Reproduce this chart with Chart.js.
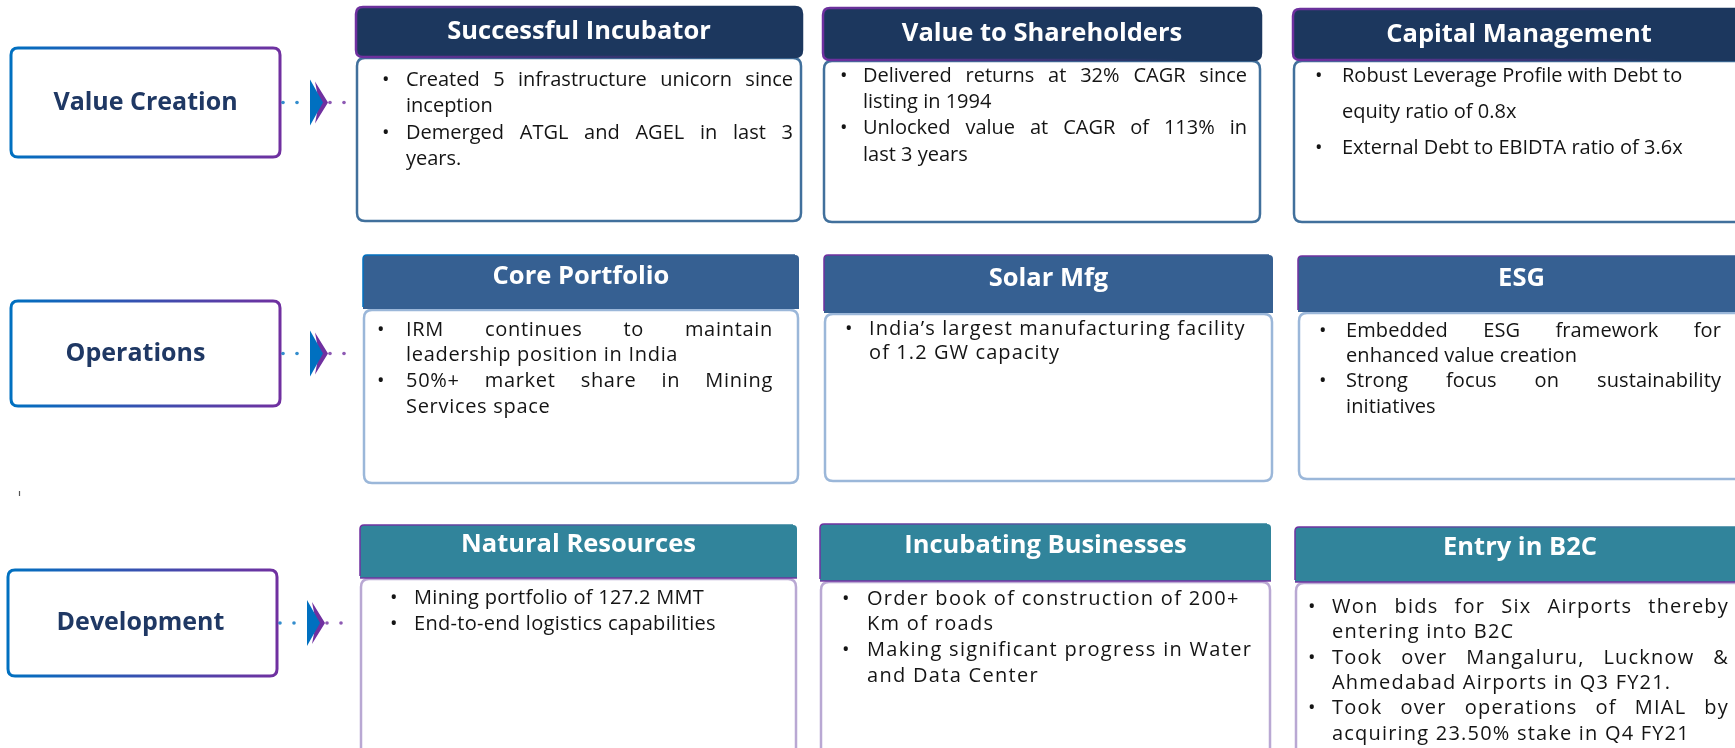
<!DOCTYPE html>
<html>
<head>
<meta charset="utf-8">
<title>Business model</title>
<script src="https://cdn.jsdelivr.net/npm/chart.js@4.4.0/dist/chart.umd.min.js"></script>
<style>
    html, body { margin: 0; padding: 0; background: #ffffff; }
    #wrap { width: 1735px; height: 748px; position: relative; }
</style>
</head>
<body>
<div id="wrap"><canvas id="chart"></canvas></div>
<script>
// ---- data: stage names, card titles, bullet lines (as wrapped in the original) ----
const stages = ['Value Creation', 'Operations', 'Development'];

const cardTitles = [
    ['Successful Incubator', 'Value to Shareholders', 'Capital Management'],
    ['Core Portfolio', 'Solar Mfg', 'ESG'],
    ['Natural Resources', 'Incubating Businesses', 'Entry in B2C']
];

const cardBullets = [
    [
        [['Created 5 infrastructure unicorn since', 'inception'], ['Demerged ATGL and AGEL in last 3', 'years.']],
        [['Delivered returns at 32% CAGR since', 'listing in 1994'], ['Unlocked value at CAGR of 113% in', 'last 3 years']],
        [['Robust Leverage Profile with Debt to', 'equity ratio of 0.8x'], ['External Debt to EBIDTA ratio of 3.6x']]
    ],
    [
        [['IRM continues to maintain', 'leadership position in India'], ['50%+ market share in Mining', 'Services space']],
        [['India\u2019s largest manufacturing facility', 'of 1.2 GW capacity']],
        [['Embedded ESG framework for', 'enhanced value creation'], ['Strong focus on sustainability', 'initiatives']]
    ],
    [
        [['Mining portfolio of 127.2 MMT'], ['End-to-end logistics capabilities']],
        [['Order book of construction of 200+', 'Km of roads'], ['Making significant progress in Water', 'and Data Center']],
        [['Won bids for Six Airports thereby', 'entering into B2C'], ['Took over Mangaluru, Lucknow &', 'Ahmedabad Airports in Q3 FY21.'], ['Took over operations of MIAL by', 'acquiring 23.50% stake in Q4 FY21']]
    ]
];

// ---- layout, in units of the 1735 x 748 frame ----
const stageBoxes = [[11, 280, 48, 157], [11, 280, 301, 406], [8, 277, 570, 676]];
const stageTextShift = [0, -10, -2];

// [left, right, headTop, headBottom, bodyBottom]
const cardBoxes = [
    [[356, 802, 7, 57, 221], [823, 1261, 8, 60, 222], [1293, 1745, 9, 60, 222]],
    [[363, 799, 255, 309, 483], [824, 1273, 255, 313, 481], [1298, 1745, 256, 312, 479]],
    [[360, 797, 525, 578, 760], [820, 1271, 524, 581, 760], [1295, 1745, 527, 582, 760]]
];

// [bulletX, textX, rightX, firstLineY, lineGap, justify, letterSpacing]
const textSpots = [
    [[382, 406, 793, 80, 26.5, true, 0], [840, 863, 1247, 76, 26.3, true, 0], [1315, 1342, 1720, 76, 36, false, 0]],
    [[377, 406, 773, 330, 25.7, true, 0.7], [845, 869, 1260, 329, 24.5, false, 1.1], [1319, 1346, 1721, 331, 25.3, true, 0.1]],
    [[390, 414, 780, 598, 26, false, 0.3], [842, 867, 1245, 599, 25.6, false, 1.3], [1308, 1332, 1729, 607, 25.4, true, 1.2]]
];

const rowStyles = [
    { head: '#1c375e', body: '#41709c', titleShift: 0 },
    { head: '#366092', body: '#9bb7d9', titleShift: -5 },
    { head: '#31849b', body: '#b9a8d3', titleShift: -7 }
];

const FONT = '"Open Sans", "Noto Sans", sans-serif';
const BLUE = '#0070c0';
const PURPLE = '#7030a0';

function roundRect(ctx, x0, y0, x1, y1, r) {
    ctx.beginPath();
    ctx.moveTo(x0 + r, y0);
    ctx.lineTo(x1 - r, y0);
    ctx.quadraticCurveTo(x1, y0, x1, y0 + r);
    ctx.lineTo(x1, y1 - r);
    ctx.quadraticCurveTo(x1, y1, x1 - r, y1);
    ctx.lineTo(x0 + r, y1);
    ctx.quadraticCurveTo(x0, y1, x0, y1 - r);
    ctx.lineTo(x0, y0 + r);
    ctx.quadraticCurveTo(x0, y0, x0 + r, y0);
    ctx.closePath();
}

function drawLine(ctx, text, x, right, y, justify) {
    ctx.textAlign = 'left';
    if (!justify) {
        ctx.fillText(text, x, y);
        return;
    }
    const words = text.split(' ');
    const widths = words.map(w => ctx.measureText(w).width);
    const total = widths.reduce((a, b) => a + b, 0);
    const gap = words.length > 1 ? (right - x - total) / (words.length - 1) : 0;
    let cx = x;
    words.forEach((w, i) => {
        ctx.fillText(w, cx, y);
        cx += widths[i] + gap;
    });
}

const diagramPlugin = {
    id: 'diagram',
    afterDraw(chart) {
        const ctx = chart.ctx;
        const xs = chart.scales.x;
        const ys = chart.scales.y;
        const px = v => xs.getPixelForValue(v);
        const py = v => ys.getPixelForValue(v);

        ctx.save();

        // stage boxes on the left
        stages.forEach((name, r) => {
            const [l, rt, t, b] = stageBoxes[r];
            const g = ctx.createLinearGradient(px(l), 0, px(rt), 0);
            g.addColorStop(0, BLUE);
            g.addColorStop(1, PURPLE);
            roundRect(ctx, px(l), py(t), px(rt), py(b), 7);
            ctx.fillStyle = '#ffffff';
            ctx.fill();
            ctx.lineWidth = 3;
            ctx.strokeStyle = g;
            ctx.stroke();

            ctx.fillStyle = '#1f3864';
            ctx.font = 'bold 25px ' + FONT;
            ctx.textAlign = 'center';
            ctx.textBaseline = 'middle';
            ctx.fillText(name, px((l + rt) / 2 + stageTextShift[r]), py((t + b) / 2));

            // dotted connector with double arrowhead
            const cy = py((t + b) / 2);
            const ax = rt + 30;
            [[rt + 3, BLUE], [rt + 17, BLUE], [ax + 20, PURPLE], [ax + 34, PURPLE]].forEach(([dx, c]) => {
                ctx.beginPath();
                ctx.arc(px(dx), cy, 1.8, 0, Math.PI * 2);
                ctx.fillStyle = c;
                ctx.globalAlpha = 0.8;
                ctx.fill();
                ctx.globalAlpha = 1;
            });
            ctx.beginPath();
            ctx.moveTo(px(ax + 5), cy - 21);
            ctx.lineTo(px(ax + 18), cy);
            ctx.lineTo(px(ax + 5), cy + 21);
            ctx.lineTo(px(ax + 9), cy);
            ctx.closePath();
            ctx.fillStyle = PURPLE;
            ctx.fill();
            ctx.beginPath();
            ctx.moveTo(px(ax), cy - 23);
            ctx.lineTo(px(ax + 13), cy);
            ctx.lineTo(px(ax), cy + 23);
            ctx.closePath();
            ctx.fillStyle = BLUE;
            ctx.fill();
        });

        // cards
        cardTitles.forEach((row, r) => {
            const st = rowStyles[r];
            row.forEach((title, c) => {
                const [l, rt, ht, hb, bb] = cardBoxes[r][c];
                const L = px(l), R = px(rt), HT = py(ht), HB = py(hb), BB = py(bb);

                // body
                roundRect(ctx, L + 1, HB + 1, R - 1, BB, 8);
                ctx.fillStyle = '#ffffff';
                ctx.fill();
                ctx.lineWidth = 2.5;
                ctx.strokeStyle = st.body;
                ctx.stroke();

                // header
                if (r === 0) {
                    roundRect(ctx, L, HT, R, HB, 7);
                    ctx.fillStyle = st.head;
                    ctx.fill();
                    const g = ctx.createLinearGradient(L, HB, L + (R - L) * 0.8, HT);
                    g.addColorStop(0, PURPLE);
                    g.addColorStop(1, st.head);
                    ctx.lineWidth = 2.5;
                    ctx.strokeStyle = g;
                    ctx.stroke();
                } else {
                    ctx.beginPath();
                    ctx.moveTo(L, HB);
                    ctx.lineTo(L, HT + 4);
                    ctx.quadraticCurveTo(L, HT, L + 4, HT);
                    ctx.lineTo(R - 4, HT);
                    ctx.quadraticCurveTo(R, HT, R, HT + 4);
                    ctx.lineTo(R, HB);
                    ctx.closePath();
                    ctx.fillStyle = st.head;
                    ctx.fill();
                    const g = ctx.createLinearGradient(L, 0, R, 0);
                    g.addColorStop(0, r === 1 && c === 0 ? BLUE : PURPLE);
                    g.addColorStop(1, st.head);
                    ctx.lineWidth = 1.5;
                    ctx.strokeStyle = g;
                    ctx.beginPath();
                    ctx.moveTo(L, HB - 2);
                    ctx.lineTo(L, HT + 4);
                    ctx.quadraticCurveTo(L, HT, L + 4, HT);
                    ctx.lineTo(R - 4, HT);
                    ctx.stroke();
                    if (r === 2) {
                        ctx.beginPath();
                        ctx.moveTo(L, HB);
                        ctx.lineTo(R, HB);
                        ctx.strokeStyle = 'rgba(112, 48, 160, 0.7)';
                        ctx.lineWidth = 2;
                        ctx.stroke();
                    }
                }

                ctx.fillStyle = '#ffffff';
                ctx.font = 'bold 25.5px ' + FONT;
                ctx.textAlign = 'center';
                ctx.textBaseline = 'middle';
                ctx.fillText(title, (L + R) / 2, (HT + HB) / 2 + st.titleShift);

                // bullets
                const [bx, tx, rx, fy, gap, just, ls] = textSpots[r][c];
                ctx.fillStyle = '#141414';
                ctx.font = '20px ' + FONT;
                let line = 0;
                cardBullets[r][c].forEach(item => {
                    item.forEach((txt, i) => {
                        const y = py(fy + gap * line);
                        if (i === 0) {
                            ctx.letterSpacing = '0px';
                            ctx.textAlign = 'left';
                            ctx.fillText('\u2022', px(bx), y);
                        }
                        ctx.letterSpacing = ls + 'px';
                        drawLine(ctx, txt, px(tx), px(rx), y, just && i < item.length - 1);
                        line++;
                    });
                });
                ctx.letterSpacing = '0px';
            });
        });

        // stray tick mark in the original slide
        ctx.beginPath();
        ctx.moveTo(px(19.5), py(491));
        ctx.lineTo(px(19.5), py(496));
        ctx.strokeStyle = '#555555';
        ctx.lineWidth = 1.2;
        ctx.stroke();

        ctx.restore();
    }
};

new Chart(document.getElementById('chart'), {
    type: 'scatter',
    data: { datasets: [{ data: [], pointRadius: 0 }] },
    options: {
        responsive: true,
        maintainAspectRatio: false,
        animation: false,
        events: [],
        layout: { padding: 0 },
        plugins: { legend: { display: false }, tooltip: { enabled: false } },
        scales: {
            x: { type: 'linear', min: 0, max: 1735, display: false },
            y: { type: 'linear', min: 0, max: 748, reverse: true, display: false }
        }
    },
    plugins: [diagramPlugin]
});
</script>
</body>
</html>
